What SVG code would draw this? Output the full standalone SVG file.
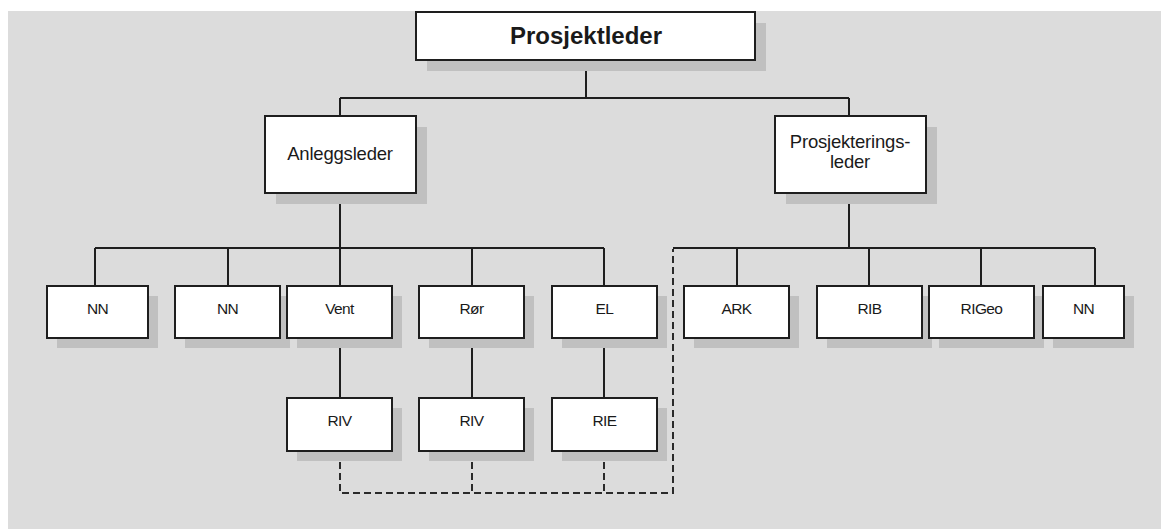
<svg xmlns="http://www.w3.org/2000/svg" width="1161" height="529" viewBox="0 0 1161 529">
  <style>
    .box { fill: #ffffff; stroke: #1e1e1e; stroke-width: 2; }
    .shadow { fill: #c0c0c0; }
    .line { fill: none; stroke: #1e1e1e; stroke-width: 2; }
    .dash { fill: none; stroke: #2a2a2a; stroke-width: 2; stroke-dasharray: 7 4; }
    text { font-family: "Liberation Sans", Arial, sans-serif; fill: #1a1a1a; text-anchor: middle; }
    .title { font-size: 24px; font-weight: bold; }
    .mid { font-size: 18.5px; letter-spacing: -0.2px; }
    .small { font-size: 15.5px; letter-spacing: -0.6px; }
  </style>

  <rect x="0" y="0" width="1161" height="529" fill="#ffffff"/>
  <rect x="8" y="11" width="1153" height="518" fill="#dcdcdc"/>

  <!-- connectors -->
  <g id="connectors">
    <path class="line" d="M586 60 V98 M340 98 H849 M340 98 V116 M849 98 V116"/>
    <path class="line" d="M340 193 V248 M95 248 H604 M95 248 V286 M228 248 V286 M340 248 V286 M472 248 V286 M604 248 V286"/>
    <path class="line" d="M340 338 V398 M472 338 V398 M604 338 V398"/>
    <path class="line" d="M849 193 V248 M673 248 H1095 M737 248 V286 M869 248 V286 M981 248 V286 M1095 248 V286"/>
    <path class="dash" d="M340 451 V493 H673 V249"/>
    <path class="dash" d="M472 451 V493 M604 451 V493"/>
  </g>

  <g id="prosjektleder">
    <rect class="shadow" x="427" y="23" width="339" height="48"/>
    <rect class="box" x="416" y="12" width="339" height="48"/>
    <text class="title" x="586" y="44">Prosjektleder</text>
  </g>

  <g id="anleggsleder">
    <rect class="shadow" x="276" y="127" width="151" height="77"/>
    <rect class="box" x="265" y="116" width="151" height="77"/>
    <text class="mid" x="340" y="160">Anleggsleder</text>
  </g>

  <g id="prosjekteringsleder">
    <rect class="shadow" x="786" y="127" width="151" height="77"/>
    <rect class="box" x="775" y="116" width="151" height="77"/>
    <text class="mid" x="850" y="148">Prosjekterings-</text>
    <text class="mid" x="850" y="168">leder</text>
  </g>

  <g id="nn-1">
    <rect class="shadow" x="57" y="296" width="101" height="52"/>
    <rect class="box" x="47" y="286" width="101" height="52"/>
    <text class="small" x="97.5" y="314">NN</text>
  </g>

  <g id="nn-2">
    <rect class="shadow" x="185" y="296" width="105" height="52"/>
    <rect class="box" x="175" y="286" width="105" height="52"/>
    <text class="small" x="227.5" y="314">NN</text>
  </g>

  <g id="vent">
    <rect class="shadow" x="297" y="296" width="105" height="52"/>
    <rect class="box" x="287" y="286" width="105" height="52"/>
    <text class="small" x="339.5" y="314">Vent</text>
  </g>

  <g id="ror">
    <rect class="shadow" x="429" y="296" width="105" height="52"/>
    <rect class="box" x="419" y="286" width="105" height="52"/>
    <text class="small" x="471.5" y="314">Rør</text>
  </g>

  <g id="el">
    <rect class="shadow" x="562" y="296" width="105" height="52"/>
    <rect class="box" x="552" y="286" width="105" height="52"/>
    <text class="small" x="604.5" y="314">EL</text>
  </g>

  <g id="riv-1">
    <rect class="shadow" x="297" y="408" width="105" height="53"/>
    <rect class="box" x="287" y="398" width="105" height="53"/>
    <text class="small" x="339.5" y="426">RIV</text>
  </g>

  <g id="riv-2">
    <rect class="shadow" x="429" y="408" width="105" height="53"/>
    <rect class="box" x="419" y="398" width="105" height="53"/>
    <text class="small" x="471.5" y="426">RIV</text>
  </g>

  <g id="rie">
    <rect class="shadow" x="562" y="408" width="105" height="53"/>
    <rect class="box" x="552" y="398" width="105" height="53"/>
    <text class="small" x="604.5" y="426">RIE</text>
  </g>

  <g id="ark">
    <rect class="shadow" x="694" y="296" width="105" height="52"/>
    <rect class="box" x="684" y="286" width="105" height="52"/>
    <text class="small" x="736.5" y="314">ARK</text>
  </g>

  <g id="rib">
    <rect class="shadow" x="827" y="296" width="105" height="52"/>
    <rect class="box" x="817" y="286" width="105" height="52"/>
    <text class="small" x="869.5" y="314">RIB</text>
  </g>

  <g id="rigeo">
    <rect class="shadow" x="939" y="296" width="105" height="52"/>
    <rect class="box" x="929" y="286" width="105" height="52"/>
    <text class="small" x="981.5" y="314">RIGeo</text>
  </g>

  <g id="nn-3">
    <rect class="shadow" x="1053" y="296" width="81" height="52"/>
    <rect class="box" x="1043" y="286" width="81" height="52"/>
    <text class="small" x="1083.5" y="314">NN</text>
  </g>
</svg>
